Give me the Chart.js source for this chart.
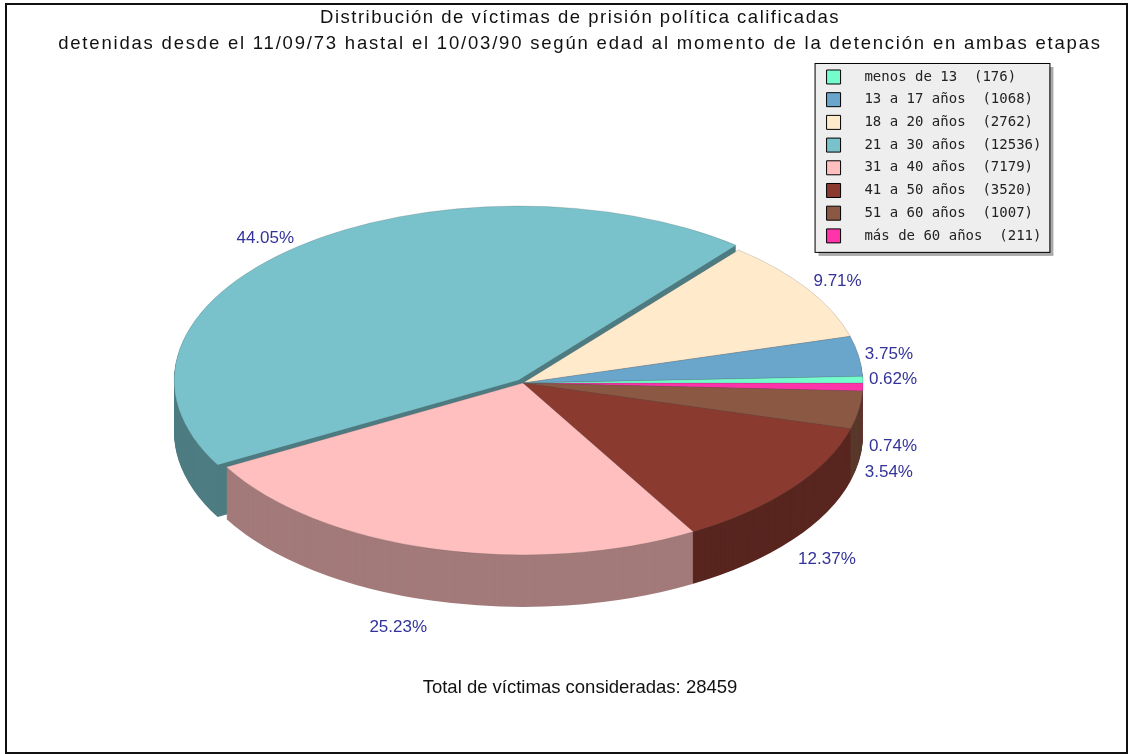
<!DOCTYPE html>
<html>
<head>
<meta charset="utf-8">
<script src="https://cdn.jsdelivr.net/npm/chart.js@4.4.1/dist/chart.umd.min.js"></script>
<style>
  html, body { margin: 0; padding: 0; background: #fff; }
</style>
</head>
<body>
<canvas id="grafico" width="1129" height="754"></canvas>
<script>
// Datos
const categorias = ['menos de 13', '13 a 17 años', '18 a 20 años', '21 a 30 años', '31 a 40 años', '41 a 50 años', '51 a 60 años', 'más de 60 años'];
const victimas = [176, 1068, 2762, 12536, 7179, 3520, 1007, 211];
const colores = ['#75fccd', '#6aa5cc', '#ffeacc', '#79c2cb', '#ffbfbf', '#8b3a30', '#8b5843', '#ff33aa'];
const separada = '21 a 30 años';
const titulo = [
  'Distribución de víctimas de prisión política calificadas',
  'detenidas desde el 11/09/73 hastal el 10/03/90 según edad al momento de la detención en ambas etapas'
];

const total = victimas.reduce((a, b) => a + b, 0);
// el pastel se dibuja en sentido horario desde las 3, asi que se invierte el orden
const orden = victimas.map((_, i) => i).reverse();

// Aspecto del pastel 3D
const pie3d = { cx: 523, cy: 383, rx: 340, ry: 172, depth: 52, sombra: 0.64 };
const fuente = '"Liberation Sans", Arial, sans-serif';
const fuenteLeyenda = '"DejaVu Sans Mono", monospace';
const espaciadoTitulo = ['1.5px', '1.8px'];

// Funciones auxiliares

function oscurecer(hex, f) {
  const n = parseInt(hex.slice(1), 16);
  const r = Math.round(((n >> 16) & 255) * f);
  const g = Math.round(((n >> 8) & 255) * f);
  const b = Math.round((n & 255) * f);
  return `rgb(${r},${g},${b})`;
}

function proyectar(ctx, el, dy) {
  ctx.translate(pie3d.cx, pie3d.cy + dy);
  ctx.scale(pie3d.rx / el.outerRadius, pie3d.ry / el.outerRadius);
  ctx.translate(-el.x, -el.y);
}

const tarta3d = {
  id: 'tarta3d',
  beforeDraw(chart) {
    const ctx = chart.ctx;
    // espaciado de letras solo para el titulo, una medida por linea
    const t = chart.titleBlock;
    if (t && !t._espaciado) {
      const dibujar = t.draw.bind(t);
      t.draw = (area) => {
        const escribir = ctx.fillText;
        ctx.fillText = function (texto, x, y, max) {
          const n = titulo.indexOf(texto);
          ctx.letterSpacing = n >= 0 ? espaciadoTitulo[n] : '0px';
          return escribir.call(this, texto, x, y, max);
        };
        dibujar(area);
        ctx.fillText = escribir;
        ctx.letterSpacing = '0px';
      };
      t._espaciado = true;
    }
    // marco de la leyenda
    const cajas = chart.legend.legendHitBoxes;
    if (cajas && cajas.length) {
      ctx.save();
      ctx.font = '14px ' + fuenteLeyenda;
      const ancho = Math.max(...chart.legend.legendItems.map(it => ctx.measureText(it.text.trimEnd()).width));
      const izq = cajas[0].left - 12;
      const arriba = cajas[0].top - 7;
      const der = cajas[0].left + 14 + 7 + ancho + 8;
      const ultima = cajas[cajas.length - 1];
      const abajo = ultima.top + ultima.height + 9;
      ctx.fillStyle = '#a9a9a9';
      ctx.fillRect(izq + 4, arriba + 4, der - izq, abajo - arriba);
      ctx.fillStyle = '#eeeeee';
      ctx.fillRect(izq, arriba, der - izq, abajo - arriba);
      ctx.strokeStyle = '#000';
      ctx.lineWidth = 1;
      ctx.strokeRect(izq + 0.5, arriba + 0.5, der - izq, abajo - arriba);
      ctx.restore();
    }
  },
  beforeDatasetDraw(chart, args) {
    const ctx = chart.ctx;
    const arcos = args.meta.data;
    // paredes laterales
    for (let h = pie3d.depth; h > 0; h--) {
      arcos.forEach((el) => {
        const opts = el.options;
        ctx.save();
        proyectar(ctx, el, h);
        el.options = Object.assign({}, opts, {
          backgroundColor: oscurecer(opts.backgroundColor, pie3d.sombra),
          borderWidth: 0
        });
        el.draw(ctx);
        el.options = opts;
        ctx.restore();
      });
    }
    // cara superior
    arcos.forEach((el) => {
      ctx.save();
      proyectar(ctx, el, 0);
      el.draw(ctx);
      ctx.restore();
    });
    return false;
  },
  afterDatasetsDraw(chart) {
    const ctx = chart.ctx;
    const arcos = chart.getDatasetMeta(0).data;
    const etiquetas = arcos.map((el, i) => {
      const med = (el.startAngle + el.endAngle) / 2;
      const c = Math.cos(med), s = Math.sin(med);
      const k = (el.options.offset || 0) / 4 / el.outerRadius;
      return {
        x: pie3d.cx + c * pie3d.rx * (1 + k),
        y: pie3d.cy + s * pie3d.ry * ((s > 0 ? 1.12 : 1.08) + k) + (s > 0 ? pie3d.depth + 7 : 0),
        derecha: c >= 0,
        texto: (victimas[orden[i]] / total * 100).toFixed(2) + '%'
      };
    });
    // evitar que se monten las etiquetas
    [true, false].forEach(lado => {
      const grupo = etiquetas.filter(e => e.derecha === lado).sort((a, b) => a.y - b.y);
      for (let j = 1; j < grupo.length; j++) {
        if (grupo[j].y - grupo[j - 1].y < 25) grupo[j].y = grupo[j - 1].y + 25;
      }
    });
    ctx.save();
    ctx.letterSpacing = '0px';
    ctx.font = '17px ' + fuente;
    ctx.fillStyle = '#333399';
    ctx.textBaseline = 'middle';
    etiquetas.forEach(e => {
      ctx.textAlign = e.derecha ? 'left' : 'right';
      ctx.fillText(e.texto, e.x + (e.derecha ? 6 : -6), e.y);
    });
    ctx.restore();
  },
  afterDraw(chart) {
    const ctx = chart.ctx;
    ctx.save();
    ctx.strokeStyle = '#111';
    ctx.lineWidth = 2;
    ctx.strokeRect(6, 4, 1121, 749);
    ctx.restore();
  }
};

// Grafico

const grafico = new Chart(document.getElementById('grafico'), {
  type: 'pie',
  data: {
    labels: orden.map(i => categorias[i]),
    datasets: [{
      data: orden.map(i => victimas[i]),
      backgroundColor: orden.map(i => colores[i]),
      offset: orden.map(i => categorias[i] === separada ? 28 : 0),
      borderColor: 'rgba(80,80,80,0.35)',
      borderWidth: 0.8
    }]
  },
  options: {
    responsive: false,
    animation: false,
    devicePixelRatio: 1,
    events: [],
    rotation: 90,
    radius: 340,
    layout: { padding: { left: 58, right: 27, top: 0, bottom: 0 } },
    plugins: {
      title: {
        display: true,
        text: titulo,
        color: '#111',
        font: { family: fuente, size: 18.5, weight: 'normal', lineHeight: 1.405 },
        padding: { top: 5, bottom: 4.3 }
      },
      subtitle: {
        display: true,
        position: 'bottom',
        text: 'Total de víctimas consideradas: ' + total,
        color: '#111',
        font: { family: fuente, size: 18.5, weight: 'normal', lineHeight: 1.2 },
        padding: { top: 0, bottom: 55 }
      },
      legend: {
        position: 'right',
        align: 'start',
        fullSize: false,
        reverse: true,
        labels: {
          font: { family: fuenteLeyenda, size: 14 },
          color: '#222',
          boxWidth: 14,
          boxHeight: 14,
          padding: 8.7,
          generateLabels(chart) {
            const base = Chart.overrides.pie.plugins.legend.labels.generateLabels(chart);
            return base.map(it => Object.assign(it, {
              text: '  ' + categorias[orden[it.index]] + '  (' + victimas[orden[it.index]] + ')      ',
              strokeStyle: '#000',
              lineWidth: 1
            }));
          }
        }
      },
      tooltip: { enabled: false }
    }
  },
  plugins: [tarta3d]
});
</script>
</body>
</html>
